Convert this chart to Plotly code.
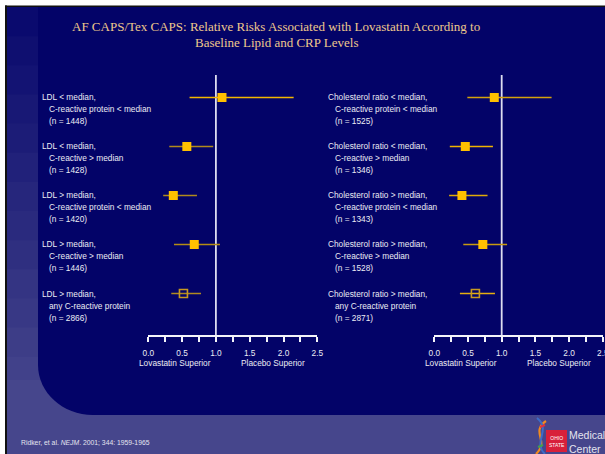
import plotly.graph_objects as go

# ---- data -------------------------------------------------------------
ldl_labels = [
    ("LDL &lt; median,", "C-reactive protein &lt; median", "(n = 1448)"),
    ("LDL &lt; median,", "C-reactive &gt; median", "(n = 1428)"),
    ("LDL &gt; median,", "C-reactive protein &lt; median", "(n = 1420)"),
    ("LDL &gt; median,", "C-reactive &gt; median", "(n = 1446)"),
    ("LDL &gt; median,", "any C-reactive protein", "(n = 2866)"),
]
ldl_rr = [1.09, 0.57, 0.37, 0.68, 0.52]
ldl_lo = [0.61, 0.31, 0.22, 0.38, 0.34]
ldl_hi = [2.15, 0.96, 0.72, 1.06, 0.78]

ratio_labels = [
    ("Cholesterol ratio &lt; median,", "C-reactive protein &lt; median", "(n = 1525)"),
    ("Cholesterol ratio &lt; median,", "C-reactive &gt; median", "(n = 1346)"),
    ("Cholesterol ratio &gt; median,", "C-reactive protein &lt; median", "(n = 1343)"),
    ("Cholesterol ratio &gt; median,", "C-reactive &gt; median", "(n = 1528)"),
    ("Cholesterol ratio &gt; median,", "any C-reactive protein", "(n = 2871)"),
]
ratio_rr = [0.89, 0.46, 0.41, 0.72, 0.61]
ratio_lo = [0.49, 0.23, 0.22, 0.43, 0.38]
ratio_hi = [1.74, 0.87, 0.79, 1.08, 0.90]

# last row of each panel is the pooled ("any CRP") group, drawn hollow
pooled_row = 4

tick_vals = [0, 0.25, 0.5, 0.75, 1.0, 1.25, 1.5, 1.75, 2.0, 2.25, 2.5]
tick_text = ["0.0", "", "0.5", "", "1.0", "", "1.5", "", "2.0", "", "2.5"]

title_lines = [
    "AF CAPS/Tex CAPS: Relative Risks Associated with Lovastatin According to",
    "Baseline Lipid and CRP Levels",
]
footer = "Ridker, et al. <i>NEJM</i>. 2001; 344: 1959-1965"

# ---- styling ----------------------------------------------------------
W, H = 605, 454
NAVY = "#030368"
FRAME = "#46468c"
GOLD = "#ffc000"
WHITE = "#ececf4"
SANS = "Arial, Liberation Sans, sans-serif"
SERIF = "Times New Roman, Liberation Serif, serif"

ldl_line_colors = ["#f2b600", "#b08a1c", "#b08a1c", "#b48c14", "#b08a20"]
ratio_line_colors = ["#d4a20c", "#f0b400", "#e0aa08", "#c89a10", "#e6ae10"]


def fx(p):
    return p / W


def fy(p):
    return 1 - p / H


fig = go.Figure()


def add_panel(xa, rr, lo, hi, line_colors):
    for i in range(len(rr)):
        hollow = i == pooled_row
        fig.add_trace(go.Scatter(
            x=[rr[i]], y=[i], xaxis=xa, yaxis="y", mode="markers",
            marker=dict(
                symbol="square-open" if hollow else "square",
                size=9 if not hollow else 8,
                color="#c89a20" if hollow else GOLD,
                line=dict(width=1.6 if hollow else 0,
                          color="#c89a20"),
            ),
            error_x=dict(type="data", symmetric=False,
                         array=[hi[i] - rr[i]], arrayminus=[rr[i] - lo[i]],
                         width=0, thickness=1.5, color=line_colors[i]),
            showlegend=False, hoverinfo="skip",
        ))


add_panel("x", ldl_rr, ldl_lo, ldl_hi, ldl_line_colors)
add_panel("x2", ratio_rr, ratio_lo, ratio_hi, ratio_line_colors)

# ---- slide background -----------------------------------------------
shapes = []
# gradient side strip (bands overlap slightly to avoid seams)
n_band = 14
top_c = (10, 10, 110)
bot_c = (70, 70, 140)
y_start, y_end = 7, 415
for k in range(n_band):
    t = k / (n_band - 1)
    c = tuple(int(round(top_c[j] + (bot_c[j] - top_c[j]) * t)) for j in range(3))
    ya = y_start + (y_end - y_start) * k / n_band
    yb = y_start + (y_end - y_start) * (k + 1) / n_band + 2
    shapes.append(dict(type="rect", xref="paper", yref="paper",
                       x0=fx(7), x1=fx(80), y0=fy(yb), y1=fy(ya),
                       fillcolor="rgb(%d,%d,%d)" % c, line_width=0, layer="below"))
# bottom band
shapes.append(dict(type="rect", xref="paper", yref="paper",
                   x0=fx(7), x1=fx(W), y0=fy(H), y1=fy(380),
                   fillcolor=FRAME, line_width=0, layer="below"))
# main navy panel with a rounded lower-left corner
rx, ry = 55, 50
kx, ky = 0.5523 * rx, 0.5523 * ry
L, B = 38, 415
pts = [
    ("M", [(L, 7)]), ("L", [(W, 7)]), ("L", [(W, B)]), ("L", [(L + rx, B)]),
    ("C", [(L + rx - kx, B), (L, B - ry + ky), (L, B - ry)]), ("Z", []),
]
path = ""
for cmd, pp in pts:
    path += cmd + " ".join("%.5f,%.5f" % (fx(a), fy(b)) for a, b in pp) + " "
shapes.append(dict(type="path", xref="paper", yref="paper", path=path.strip(),
                   fillcolor=NAVY, line_width=0, layer="below"))
# thin black frame on top and left
shapes.append(dict(type="rect", xref="paper", yref="paper",
                   x0=fx(5), x1=fx(W), y0=fy(7), y1=fy(5.5),
                   fillcolor="#111111", line_width=0, layer="below"))
shapes.append(dict(type="rect", xref="paper", yref="paper",
                   x0=fx(5), x1=fx(7), y0=fy(H), y1=fy(5.5),
                   fillcolor="#111111", line_width=0, layer="below"))

# reference lines at relative risk 1.0
for xr in ("x", "x2"):
    shapes.append(dict(type="line", xref=xr, yref="y domain", x0=1, x1=1,
                       y0=0, y1=1, line=dict(color="#dcdcf0", width=1.8),
                       layer="below"))

# logo: red badge and helix
shapes.append(dict(type="rect", xref="paper", yref="paper",
                   x0=fx(546), x1=fx(567), y0=fy(452), y1=fy(430),
                   fillcolor="#d8203a", line_width=0))


def bez(p0, c1, c2, p1):
    s = "M%.5f,%.5f C" % (fx(p0[0]), fy(p0[1]))
    s += " ".join("%.5f,%.5f" % (fx(a), fy(b)) for a, b in (c1, c2, p1))
    return s


shapes.append(dict(type="path", xref="paper", yref="paper",
                   path=bez((546, 421), (530, 432), (550, 441), (536, 454)),
                   line=dict(color="#f08a20", width=2.2)))
shapes.append(dict(type="path", xref="paper", yref="paper",
                   path=bez((537, 418), (552, 430), (532, 442), (545, 454)),
                   line=dict(color="#3c6cc8", width=2)))
shapes.append(dict(type="line", xref="paper", yref="paper",
                   x0=fx(540), x1=fx(545), y0=fy(427), y1=fy(425),
                   line=dict(color="#e03040", width=2)))
shapes.append(dict(type="line", xref="paper", yref="paper",
                   x0=fx(538), x1=fx(543), y0=fy(447), y1=fy(445),
                   line=dict(color="#40a050", width=2)))

# ---- annotations ------------------------------------------------------
ann = []
for i, t in enumerate(title_lines):
    ann.append(dict(text=t, xref="paper", yref="paper", x=fx(276), y=fy(26 + 17 * i),
                    xanchor="center", yanchor="middle", showarrow=False,
                    font=dict(family=SERIF, size=13, color="#eec88c")))


def add_labels(labels, x_first, x_rest):
    for i, (l1, l2, l3) in enumerate(labels):
        for j, (txt, xp) in enumerate(((l1, x_first), (l2, x_rest), (l3, x_rest))):
            ann.append(dict(text=txt, xref="paper", yref="y", x=fx(xp), y=i,
                            yshift=-12 * j, xanchor="left", yanchor="middle",
                            showarrow=False,
                            font=dict(family=SANS, size=8.3, color=WHITE)))


add_labels(ldl_labels, 40, 47)
add_labels(ratio_labels, 326, 333)

for xr in ("x", "x2"):
    ann.append(dict(text="Lovastatin Superior", xref=xr, yref="paper", x=0.4, y=fy(363),
                    xanchor="center", yanchor="middle", showarrow=False,
                    font=dict(family=SANS, size=8.3, color=WHITE)))
    ann.append(dict(text="Placebo Superior", xref=xr, yref="paper", x=1.85, y=fy(363),
                    xanchor="center", yanchor="middle", showarrow=False,
                    font=dict(family=SANS, size=8.3, color=WHITE)))

ann.append(dict(text=footer, xref="paper", yref="paper", x=fx(19), y=fy(442),
                xanchor="left", yanchor="middle", showarrow=False,
                font=dict(family=SANS, size=6.8, color="#e4e4f0")))
ann.append(dict(text="OHIO<br>STATE", xref="paper", yref="paper", x=fx(556.5), y=fy(441),
                xanchor="center", yanchor="middle", showarrow=False,
                font=dict(family=SANS, size=5, color="#ffffff")))
ann.append(dict(text="Medical<br>Center", xref="paper", yref="paper", x=fx(567), y=fy(441.5),
                xanchor="left", yanchor="middle", showarrow=False, align="left",
                font=dict(family=SANS, size=10.5, color="#e4e4ee")))

# ---- axes -------------------------------------------------------------
xcommon = dict(range=[0, 2.5], tickvals=tick_vals, ticktext=tick_text,
               showgrid=False, zeroline=False, showline=True, linecolor="#f4f4fa",
               linewidth=1.6, ticks="outside", ticklen=5, tickwidth=1.5,
               tickcolor="#f4f4fa", ticklabelstandoff=4, ticklabeloverflow="allow",
               tickfont=dict(family=SANS, size=8.3, color=WHITE),
               fixedrange=True, anchor="y", automargin=False)

fig.update_layout(
    width=W, height=H,
    margin=dict(l=0, r=0, t=0, b=0, pad=0, autoexpand=False),
    paper_bgcolor="#ffffff", plot_bgcolor="rgba(0,0,0,0)",
    xaxis=dict(domain=[fx(148.3), fx(317.3)], **xcommon),
    xaxis2=dict(domain=[fx(434.3), fx(602.8)], **xcommon),
    yaxis=dict(domain=[fy(335), fy(75)], range=[4.847, -0.459], visible=False,
               fixedrange=True, automargin=False),
    shapes=shapes, annotations=ann,
)

fig.write_html("out.html")
